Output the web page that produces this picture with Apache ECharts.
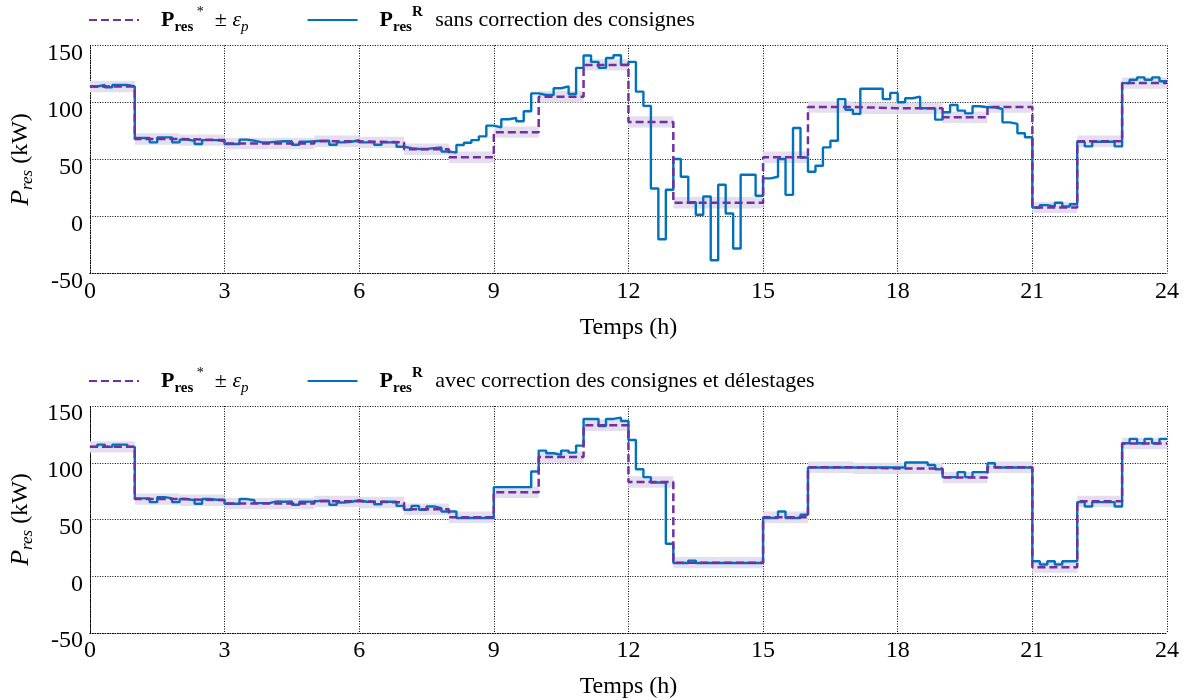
<!DOCTYPE html>
<html><head><meta charset="utf-8">
<script src="https://cdn.jsdelivr.net/npm/echarts@6/dist/echarts.min.js"></script>
<style>html,body{margin:0;padding:0;background:#fff}#c{width:1195px;height:700px}</style>
</head><body><div id="c"></div>
<script>
// ---- data ----
const xTickLabels = ['0','3','6','9','12','15','18','21','24'];
const yTickLabels = ['-50','0','50','100','150'];
const epsP = 5; // kW tolerance band
// reference set-point P_res* (hourly)
const refHourly = [114, 68, 67, 64, 64, 66, 65, 59, 52, 74, 105, 133, 83, 12, 12, 52, 96, 95, 95, 87, 96, 8, 66, 117];
// realised P_res^R, 10-minute steps — without set-point correction
const realNoCorr = [
 114, 115.4, 113.4, 115.4, 115.4, 114,
 68.8, 68.8, 65, 69.4, 69.4, 65,
 67.4, 66.5, 63.6, 67, 67, 66,
 63.6, 63.6, 67.4, 66.5, 65, 65,
 65.6, 66, 66, 63, 65.6, 66,
 66.5, 66.5, 63, 65, 65.6, 67,
 65, 65, 63, 65, 65, 61.2,
 60, 59.2, 59.2, 60, 60.6, 57,
 56, 62.7, 64.7, 67, 70.3, 79.7,
 78.2, 85.3, 86.4, 83.5, 92.3, 108,
 106.6, 106.6, 112.5, 114.2, 107.5, 130.4,
 141.2, 135.6, 130.4, 139, 141.5, 133,
 135.6, 109.5, 97, 24.6, -20, 23.5,
 50.4, 34.9, 12.6, 1.5, 17.6, -38.4,
 27.9, 2.6, -28.1, 36.6, 36.6, 18.2,
 33.4, 34.9, 50.4, 19, 77.6, 51.8,
 39.2, 44.5, 60.6, 66.5, 103, 93.7,
 90, 112, 112, 112, 103, 108.4,
 100.2, 103.7, 105.1, 95, 95, 85,
 91.4, 97.8, 92.9, 90.5, 96.7, 95.8,
 95.8, 94.3, 82.6, 81.2, 73, 69.5,
 7.9, 10, 8.8, 12, 8.8, 10.8,
 65.6, 61.5, 65.6, 65.6, 65.6, 61.5,
 117, 120, 122, 120, 122, 118.6
];
// realised P_res^R — with set-point correction and load shedding
const realCorr = [
 114, 116, 114, 116, 116, 114,
 68.6, 68.6, 65.3, 69.7, 68.6, 65.3,
 68, 67, 63.9, 68, 67.4, 67.4,
 63.9, 63.9, 68, 67, 64.4, 64.4,
 66, 65.6, 66, 63, 65.6, 66,
 66.5, 66.5, 63, 65, 65.6, 67,
 65.6, 65.6, 63.5, 65.6, 65.6, 62,
 58.6, 62, 58.6, 61.5, 60, 57,
 57, 51.3, 51.3, 51.3, 51.3, 51.3,
 78.5, 78.5, 78.5, 78.5, 78.5, 92.3,
 110.7, 108.4, 107, 110.7, 108.9, 115.1,
 138.6, 138.6, 132.4, 138.6, 139.7, 136.8,
 120, 94.3, 87.3, 82.6, 82.6, 28.7,
 11.7, 11.7, 13.8, 11.7, 11.7, 11.7,
 11.7, 11.7, 11.7, 11.7, 11.7, 11.7,
 51.3, 51.3, 57.1, 51.3, 51.3, 54.2,
 95.8, 95.8, 95.8, 95.8, 95.8, 95.8,
 95.8, 95.8, 95.8, 95.8, 95.8, 95.8,
 95.8, 100.2, 100.2, 100.2, 98, 94.3,
 87.3, 87.3, 91.7, 87.3, 91.7, 91.7,
 99.6, 95.8, 95.8, 95.8, 95.8, 95.8,
 13.2, 10.3, 13.2, 10.3, 13.2, 13.2,
 65.3, 61.5, 65.3, 65.3, 65.3, 61.5,
 117.2, 121, 117.2, 121, 117.2, 121
];
const legendRealTexts = ['sans correction des consignes', 'avec correction des consignes et délestages'];

// ---- build step data ----
function hourlySteps(arr) {
  const d = arr.map((v, i) => [i, v]);
  d.push([arr.length, arr[arr.length - 1]]);
  return d;
}
function tenMinSteps(arr) {
  const d = arr.map((v, i) => [i / 6, v]);
  d.push([24, arr[arr.length - 1]]);
  return d;
}

const FONT = '"Liberation Serif", "Times New Roman", serif';
const C_REF = '#7030a0', C_REAL = '#0072bd', C_BAND = '#e4deee';
const dotted = { color: '#000', width: 1, type: [1, 1.5] };

const grids = [
  { left: 88.5, right: 28, top: 45.5, height: 228 },
  { left: 88.5, right: 28, top: 406, height: 228 }
];

const xAxes = grids.map((g, i) => ({
  gridIndex: i, type: 'value', min: 0, max: 24, interval: 3,
  name: 'Temps (h)', nameLocation: 'middle', nameGap: 42,
  nameTextStyle: { fontFamily: FONT, fontSize: 24, color: '#000' },
  axisLine: { show: true, onZero: false, lineStyle: dotted },
  axisTick: { show: false },
  splitLine: { show: true, lineStyle: dotted },
  axisLabel: { fontFamily: FONT, fontSize: 24, color: '#000', margin: 6,
    formatter: (v) => xTickLabels[Math.round(v / 3)] }
}));
const yAxes = grids.map((g, i) => ({
  gridIndex: i, type: 'value', min: -50, max: 150, interval: 50,
  name: '{P|P}{s|res}{u| (kW)}', nameLocation: 'middle', nameRotate: 90, nameGap: 50,
  nameTextStyle: { fontFamily: FONT, color: '#000', rich: {
    P: { fontFamily: FONT, fontStyle: 'italic', fontSize: 26, lineHeight: 30, color: '#000' },
    s: { fontFamily: FONT, fontStyle: 'italic', fontSize: 17, lineHeight: 17, verticalAlign: 'bottom', color: '#000' },
    u: { fontFamily: FONT, fontSize: 24, lineHeight: 30, color: '#000' }
  } },
  axisLine: { show: true, lineStyle: dotted },
  axisTick: { show: false },
  splitLine: { show: true, lineStyle: dotted },
  axisLabel: { fontFamily: FONT, fontSize: 24, color: '#000', margin: 7,
    verticalAlign: 'top', lineHeight: 16,
    formatter: (v) => yTickLabels[Math.round((v + 50) / 50)] }
}));

const series = [];
const realSets = [realNoCorr, realCorr];
grids.forEach((g, i) => {
  series.push({
    name: 'band' + i, type: 'custom', xAxisIndex: i, yAxisIndex: i, silent: true, z: 1,
    encode: { x: 0, y: 1 },
    data: refHourly.map((v, h) => [h, v]),
    renderItem: (params, api) => {
      const p1 = api.coord([api.value(0), api.value(1) + epsP]);
      const p2 = api.coord([api.value(0) + 1, api.value(1) - epsP]);
      return { type: 'rect', shape: { x: p1[0], y: p1[1], width: p2[0] - p1[0], height: p2[1] - p1[1] },
        style: { fill: C_BAND } };
    }
  });
  series.push({
    name: 'real' + i, type: 'line', xAxisIndex: i, yAxisIndex: i, step: 'end',
    symbol: 'none', z: 3, lineStyle: { color: C_REAL, width: 2.4 }, itemStyle: { color: C_REAL },
    data: tenMinSteps(realSets[i])
  });
  series.push({
    name: 'ref' + i, type: 'line', xAxisIndex: i, yAxisIndex: i, step: 'end',
    symbol: 'none', z: 4, lineStyle: { color: C_REF, width: 2.5, type: [8, 4] }, itemStyle: { color: C_REF },
    data: hourlySteps(refHourly)
  });
});

const legRich = {
  g: { width: 17 },
  g2: { width: 7 },
  P: { fontFamily: FONT, fontWeight: 'bold', fontSize: 22, lineHeight: 30, color: '#000' },
  s: { fontFamily: FONT, fontWeight: 'bold', fontSize: 15, lineHeight: 15, verticalAlign: 'bottom', color: '#000' },
  sup: { fontFamily: FONT, fontSize: 14, lineHeight: 16, verticalAlign: 'top', color: '#000' },
  supB: { fontFamily: FONT, fontWeight: 'bold', fontSize: 15, lineHeight: 16, verticalAlign: 'top', color: '#000' },
  t: { fontFamily: FONT, fontSize: 22, lineHeight: 30, color: '#000' },
  e: { fontFamily: FONT, fontStyle: 'italic', fontSize: 22, lineHeight: 30, color: '#000' },
  es: { fontFamily: FONT, fontStyle: 'italic', fontSize: 15, lineHeight: 15, verticalAlign: 'bottom', color: '#000' }
};
const legends = grids.map((g, i) => ({
  data: ['ref' + i, 'real' + i],
  left: 88, top: i === 0 ? 5 : 366, padding: 0,
  itemWidth: 50, itemHeight: 14, itemGap: 58,
  itemStyle: { opacity: 0 },
  textStyle: { fontFamily: FONT, fontSize: 22, color: '#000', rich: legRich },
  formatter: (name) => name.startsWith('ref')
    ? '{g|}{P|P}{s|res}{sup| *}{t|  ± }{e|ε}{es|p}'
    : '{g|}{P|P}{s|res}{supB|R}{g2|}{t| ' + legendRealTexts[i] + '}'
}));

const chart = echarts.init(document.getElementById('c'), null, { renderer: 'canvas' });
chart.setOption({
  animation: false,
  backgroundColor: '#fff',
  grid: grids,
  xAxis: xAxes,
  yAxis: yAxes,
  legend: legends,
  series: series
});
</script></body></html>
